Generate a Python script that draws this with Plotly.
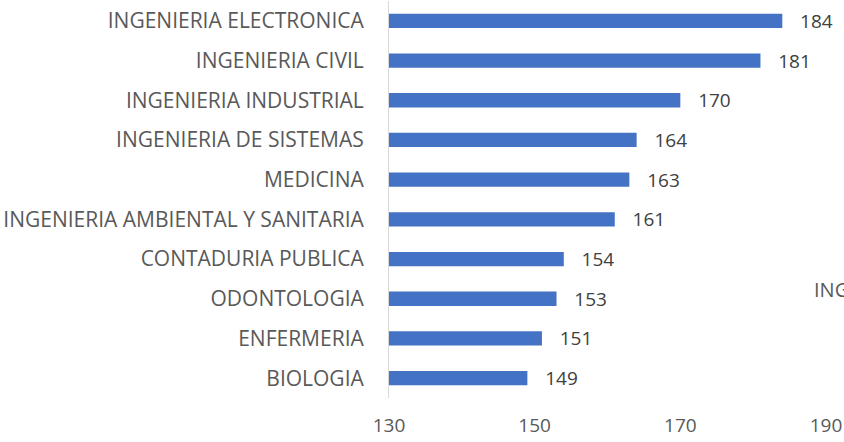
import plotly.graph_objects as go

categories = ["BIOLOGIA", "ENFERMERIA", "ODONTOLOGIA", "CONTADURIA PUBLICA",
              "INGENIERIA AMBIENTAL Y SANITARIA", "MEDICINA", "INGENIERIA DE SISTEMAS",
              "INGENIERIA INDUSTRIAL", "INGENIERIA CIVIL", "INGENIERIA ELECTRONICA"]
values = [149, 151, 153, 154, 161, 163, 164, 170, 181, 184]
tick_vals = [130, 150, 170, 190]

W, H = 844, 442
FONT = "Open Sans, sans-serif"
fig = go.Figure(go.Bar(
    y=categories, x=values, orientation="h",
    marker=dict(color="#4472C4", line=dict(width=0)),
    text=values, texttemplate="   %{x}", textposition="outside",
    constraintext="none",
    textfont=dict(family=FONT, size=19, color="#404040"),
    cliponaxis=False,
    hoverinfo="skip",
))
fig.update_layout(
    width=W, height=H,
    margin=dict(l=389, r=18, t=1, b=44),
    plot_bgcolor="white", paper_bgcolor="white",
    bargap=0.64, showlegend=False,
    font=dict(family=FONT, size=16, color="#595959"),
    xaxis=dict(range=[130, 190], tickvals=tick_vals, showgrid=False, zeroline=False,
               showline=False, ticks="", tickfont=dict(size=19, color="#595959"),
               ticklabelstandoff=14, automargin=False),
    yaxis=dict(showline=True, linecolor="#D9D9D9", linewidth=1, ticks="",
               ticklen=0, tickfont=dict(size=21, color="#595959"), automargin=False,
               ticklabelstandoff=20, range=[-0.5, 9.5]),
    annotations=[dict(text="ING", xref="paper", yref="paper", x=(812-389)/(844-389-18),
                      y=(398-290)/397, xanchor="left", yanchor="middle", showarrow=False,
                      font=dict(size=20, color="#595959"))],
)
fig.write_html("out.html", config={"displayModeBar": False},
               post_script="document.body.style.margin='0';")
